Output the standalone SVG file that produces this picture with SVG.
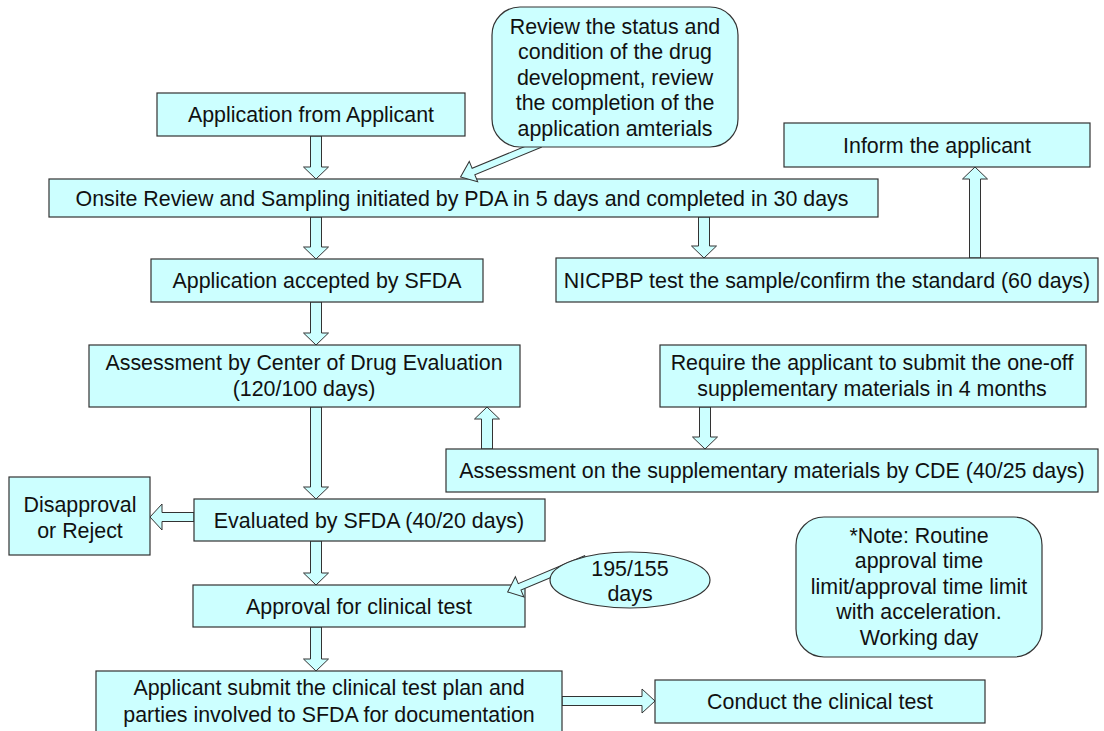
<svg xmlns="http://www.w3.org/2000/svg" width="1104" height="731" viewBox="0 0 1104 731">
<style>
.b{fill:#ccffff;stroke:#333;stroke-width:1.2}
.a{fill:#ccffff;stroke:#333;stroke-width:1}
.t{font-family:"Liberation Sans",Arial,sans-serif;font-size:21.4px;fill:#111;text-anchor:middle}
</style>
<rect width="1104" height="731" fill="#fff"/>
<g id="connectors">
<polygon class="a" points="310.5,136 321.5,136 321.5,167 328.5,167 316,179 303.5,167 310.5,167"/>
<polygon class="a" points="310.5,217 321.5,217 321.5,247 328.5,247 316,259 303.5,247 310.5,247"/>
<polygon class="a" points="698.5,217 709.5,217 709.5,246 716.5,246 704,258 691.5,246 698.5,246"/>
<polygon class="a" points="969.5,258 980.5,258 980.5,179 987.5,179 975,167 962.5,179 969.5,179"/>
<polygon class="a" points="310.5,302 321.5,302 321.5,333 328.5,333 316,345 303.5,333 310.5,333"/>
<polygon class="a" points="310.5,407 321.5,407 321.5,487 328.5,487 316,499 303.5,487 310.5,487"/>
<polygon class="a" points="481.5,449 492.5,449 492.5,419 499.5,419 487,407 474.5,419 481.5,419"/>
<polygon class="a" points="699.5,407 710.5,407 710.5,437 717.5,437 705,449 692.5,437 699.5,437"/>
<polygon class="a" points="194,512.5 162,512.5 162,504 150,517 162,530 162,521.5 194,521.5"/>
<polygon class="a" points="310.5,541 321.5,541 321.5,573 328.5,573 316,585 303.5,573 310.5,573"/>
<polygon class="a" points="310.5,627 321.5,627 321.5,659 328.5,659 316,671 303.5,659 310.5,659"/>
<polygon class="a" points="562,696.5 642,696.5 642,689 655,701 642,713 642,705.5 562,705.5"/>
</g>
<g id="n-app"><rect class="b" x="157" y="93" width="308" height="43"/><text class="t" x="311" y="122">Application from Applicant</text></g>
<g id="n-onsite"><rect class="b" x="49" y="179" width="829" height="38"/><text class="t" x="462" y="205.5">Onsite Review and Sampling initiated by PDA in 5 days and completed in 30 days</text></g>
<g id="n-callout">
<polygon class="a" transform="translate(540,144) rotate(157.5)" points="0,-3.5 72,-3.5 72,-11 86,0 72,11 72,3.5 0,3.5"/>
<rect class="b" x="492" y="7" width="246" height="140" rx="28"/>
<text class="t" x="615" y="33.5">Review the status and</text>
<text class="t" x="615" y="59">condition of the drug</text>
<text class="t" x="615" y="84.5">development, review</text>
<text class="t" x="615" y="110">the completion of the</text>
<text class="t" x="615" y="135.5">application amterials</text></g>
<g id="n-inform"><rect class="b" x="784" y="123" width="306" height="44"/><text class="t" x="937" y="152.5">Inform the applicant</text></g>
<g id="n-accepted"><rect class="b" x="151" y="259" width="332" height="43"/><text class="t" x="317" y="288">Application accepted by SFDA</text></g>
<g id="n-nicpbp"><rect class="b" x="556" y="258" width="542" height="44"/><text class="t" x="827" y="287.5">NICPBP test the sample/confirm the standard (60 days)</text></g>
<g id="n-cde"><rect class="b" x="89" y="345" width="431" height="62"/><text class="t" x="304" y="369.5">Assessment by Center of Drug Evaluation</text><text class="t" x="304" y="395.5">(120/100 days)</text></g>
<g id="n-require"><rect class="b" x="660" y="345" width="426" height="62"/><text class="t" x="872" y="369.5">Require the applicant to submit the one-off</text><text class="t" x="872" y="395.5">supplementary materials in 4 months</text></g>
<g id="n-supp"><rect class="b" x="446" y="449" width="652" height="43"/><text class="t" x="772" y="478">Assessment on the supplementary materials by CDE (40/25 days)</text></g>
<g id="n-disapproval"><rect class="b" x="9" y="477" width="141" height="78"/><text class="t" x="80" y="511.5">Disapproval</text><text class="t" x="80" y="537.5">or Reject</text></g>
<g id="n-evaluated"><rect class="b" x="194" y="499" width="351" height="42"/><text class="t" x="369" y="527.5">Evaluated by SFDA (40/20 days)</text></g>
<g id="n-note"><rect class="b" x="796" y="517" width="246" height="140" rx="28"/>
<text class="t" x="919" y="542.5">*Note: Routine</text>
<text class="t" x="919" y="568">approval time</text>
<text class="t" x="919" y="593.5">limit/approval time limit</text>
<text class="t" x="919" y="619">with acceleration.</text>
<text class="t" x="919" y="644.5">Working day</text></g>
<g id="n-approval"><rect class="b" x="193" y="585" width="332" height="42"/><text class="t" x="359" y="613.5">Approval for clinical test</text></g>
<g id="n-days">
<polygon class="a" transform="translate(586,559) rotate(157.2)" points="0,-3.5 72,-3.5 72,-11 85,0 72,11 72,3.5 0,3.5"/>
<ellipse class="b" cx="630" cy="580" rx="80" ry="28"/><text class="t" x="630" y="575.5">195/155</text><text class="t" x="630" y="600.5">days</text></g>
<g id="n-submit"><rect class="b" x="96" y="671" width="466" height="70"/><text class="t" x="329" y="694.5">Applicant submit the clinical test plan and</text><text class="t" x="329" y="721.5">parties involved to SFDA for documentation</text></g>
<g id="n-conduct"><rect class="b" x="655" y="680" width="330" height="43"/><text class="t" x="820" y="709">Conduct the clinical test</text></g>
</svg>
